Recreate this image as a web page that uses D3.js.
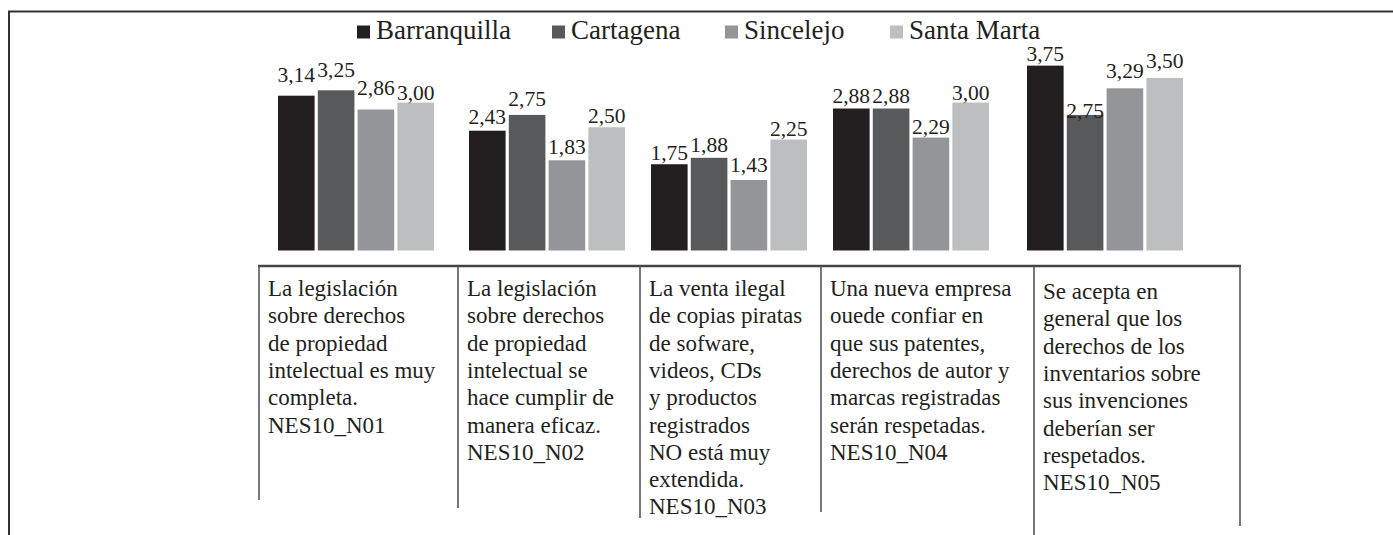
<!DOCTYPE html>
<html>
<head>
<meta charset="utf-8">
<script src="https://cdn.jsdelivr.net/npm/d3@7.9.0/dist/d3.min.js"></script>
<style>
  html, body { margin: 0; padding: 0; background: #fff; }
  svg { display: block; font-family: "Liberation Serif", "Times New Roman", serif; }
</style>
</head>
<body>
<svg id="chart" width="1393" height="535"></svg>
<script>
// data
const cities = ['Barranquilla', 'Cartagena', 'Sincelejo', 'Santa Marta'];
const items = ['NES10_N01', 'NES10_N02', 'NES10_N03', 'NES10_N04', 'NES10_N05'];
const barranquilla = [3.14, 2.43, 1.75, 2.88, 3.75];
const cartagena = [3.25, 2.75, 1.88, 2.88, 2.75];
const sincelejo = [2.86, 1.83, 1.43, 2.29, 3.29];
const santaMarta = [3.00, 2.50, 2.25, 3.00, 3.50];

const statements = [
  ['La legislación', 'sobre derechos', 'de propiedad', 'intelectual es muy', 'completa.', 'NES10_N01'],
  ['La legislación', 'sobre derechos', 'de propiedad', 'intelectual se', 'hace cumplir de', 'manera eficaz.', 'NES10_N02'],
  ['La venta ilegal', 'de copias piratas', 'de sofware,', 'videos, CDs', 'y productos', 'registrados', 'NO está muy', 'extendida.', 'NES10_N03'],
  ['Una nueva empresa', 'ouede confiar en', 'que sus patentes,', 'derechos de autor y', 'marcas registradas', 'serán respetadas.', 'NES10_N04'],
  ['Se acepta en', 'general que los', 'derechos de los', 'inventarios sobre', 'sus invenciones', 'deberían ser', 'respetados.', 'NES10_N05']
];

const series = [barranquilla, cartagena, sincelejo, santaMarta];

// layout
const colors = ['#231f20', '#58595b', '#939598', '#bcbec0'];
const groupCenters = [356, 547, 729, 911, 1105];
const legendX = [357, 552, 725, 890];
const colEdges = [259, 458, 640, 821, 1034, 1240];
const colBottoms = [500, 508, 518, 512, 535, 526];
const colTextTop = [296, 296, 296, 296, 299];
// how far each value label sits above its bar (Excel moved some of them)
const labelLift = [
  [14, 13, 15, 3],
  [7, 9, 6, 4],
  [4, 6, 8, 4],
  [6, 6, 4, 3],
  [5, -3, 10, 10]
];

const baseY = 250.5;
const svg = d3.select('#chart');

const y = d3.scaleLinear().domain([0, 4]).range([baseY, baseY - 4 * 49.3]);
const xGroup = d3.scaleOrdinal().domain(items).range(groupCenters);
const xBar = d3.scaleBand().domain(cities).range([-78, 78]).paddingInner(0.08);
const color = d3.scaleOrdinal().domain(cities).range(colors);

const fmt = d3.formatLocale({ decimal: ',', thousands: '.', grouping: [3], currency: ['', ''] }).format('.2f');

// outer frame (top and left only)
svg.append('line')
  .attr('x1', 8).attr('x2', 1393).attr('y1', 11.5).attr('y2', 11.5)
  .attr('stroke', '#333').attr('stroke-width', 2);
svg.append('line')
  .attr('x1', 9).attr('x2', 9).attr('y1', 11).attr('y2', 535)
  .attr('stroke', '#333').attr('stroke-width', 2);

// legend
const legend = svg.append('g').selectAll('g')
  .data(cities)
  .join('g')
  .attr('transform', (d, i) => `translate(${legendX[i]},0)`);

legend.append('rect')
  .attr('x', 0).attr('y', 25.5)
  .attr('width', 13).attr('height', 13)
  .attr('fill', d => color(d));

legend.append('text')
  .attr('x', 19).attr('y', 38.5)
  .attr('font-size', 27)
  .attr('fill', '#231f20')
  .text(d => d);

// bars
const rows = items.flatMap((item, gi) => cities.map((city, si) => ({
  item, city, gi, si, value: series[si][gi]
})));

const groups = svg.append('g');

groups.selectAll('rect')
  .data(rows)
  .join('rect')
  .attr('x', d => xGroup(d.item) + xBar(d.city))
  .attr('y', d => y(d.value))
  .attr('width', xBar.bandwidth())
  .attr('height', d => y(0) - y(d.value))
  .attr('fill', d => color(d.city));

groups.selectAll('text')
  .data(rows)
  .join('text')
  .attr('x', d => xGroup(d.item) + xBar(d.city) + xBar.bandwidth() / 2)
  .attr('y', d => y(d.value) - labelLift[d.gi][d.si])
  .attr('text-anchor', 'middle')
  .attr('font-size', 21.5)
  .attr('fill', '#231f20')
  .text(d => fmt(d.value));

// table below the bars
const table = svg.append('g');

table.append('line')
  .attr('x1', colEdges[0] - 1).attr('x2', colEdges[colEdges.length - 1] + 1)
  .attr('y1', 266).attr('y2', 266)
  .attr('stroke', '#444').attr('stroke-width', 2.5);

table.selectAll('line.col')
  .data(colEdges)
  .join('line')
  .attr('class', 'col')
  .attr('x1', d => d).attr('x2', d => d)
  .attr('y1', 266).attr('y2', (d, i) => colBottoms[i])
  .attr('stroke', '#555').attr('stroke-width', 1.6);

const cells = table.selectAll('text')
  .data(statements)
  .join('text')
  .attr('font-size', 23)
  .attr('fill', '#231f20');

cells.selectAll('tspan')
  .data((d, i) => d.map(line => ({ line, i })))
  .join('tspan')
  .attr('x', d => colEdges[d.i] + 9)
  .attr('y', (d, j) => colTextTop[d.i] + j * 27.3)
  .text(d => d.line);
</script>
</body>
</html>
